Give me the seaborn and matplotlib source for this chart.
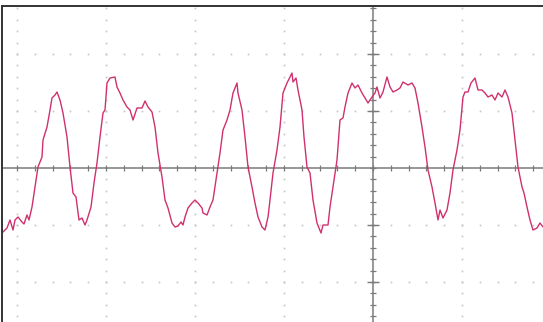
import numpy as np
import pandas as pd
import matplotlib
matplotlib.use("Agg")
import matplotlib.pyplot as plt
import seaborn as sns

# scope record: sample index and ADC code (57 codes per division, 0 = centre line)
sample = [3, 7, 10, 13, 15, 18, 22, 24, 27, 29,
          32, 35, 38, 42, 43, 47, 50, 52, 55, 57,
          60, 63, 67, 70, 73, 76, 79, 82, 85, 87,
          91, 94, 97, 100, 103, 105, 107, 110, 115, 117,
          120, 123, 127, 130, 133, 137, 142, 145, 148, 152,
          155, 158, 162, 165, 168, 172, 175, 178, 181, 183,
          185, 188, 192, 195, 198, 202, 203, 207, 210, 213,
          217, 220, 223, 227, 230, 233, 235, 237, 238, 242,
          245, 248, 252, 255, 258, 262, 265, 268, 270, 273,
          277, 280, 283, 287, 292, 293, 296, 298, 302, 304,
          307, 310, 313, 317, 321, 323, 328, 330, 333, 337,
          340, 343, 345, 348, 352, 355, 358, 362, 365, 368,
          372, 375, 377, 380, 383, 387, 390, 393, 397, 400,
          403, 408, 412, 415, 418, 422, 425, 428, 432, 435,
          438, 440, 443, 447, 450, 453, 457, 460, 463, 465,
          468, 471, 475, 478, 482, 485, 488, 492, 495, 498,
          502, 505, 508, 512, 515, 518, 522, 524, 527, 530,
          533, 537, 540, 543]

code = [-64, -60, -52, -62, -52, -49, -54, -56, -47, -52,
        -39, -19, 1, 11, 28, 41, 58, 70, 73, 76,
        68, 55, 31, 1, -25, -29, -52, -50, -57, -52,
        -39, -15, 5, 31, 55, 58, 85, 90, 91, 81,
        75, 68, 61, 58, 48, 60, 60, 67, 61, 56,
        41, 15, -9, -32, -40, -55, -59, -58, -54, -57,
        -49, -40, -35, -32, -35, -40, -45, -47, -39, -32,
        -5, 15, 38, 48, 58, 75, 80, 85, 75, 58,
        31, 1, -19, -35, -49, -59, -62, -49, -32, -5,
        18, 41, 75, 85, 95, 86, 90, 78, 58, 31,
        1, -5, -32, -55, -65, -57, -57, -39, -19, 8,
        48, 50, 61, 75, 85, 80, 83, 75, 70, 65,
        71, 75, 81, 70, 76, 91, 81, 76, 78, 80,
        86, 83, 85, 80, 65, 41, 21, -2, -19, -35,
        -52, -42, -50, -42, -25, -2, 18, 38, 71, 76,
        76, 85, 90, 78, 78, 75, 71, 73, 68, 75,
        71, 78, 71, 55, 28, 1, -19, -25, -39, -52,
        -62, -60, -55, -59]

# screen geometry
x_center = 373
x_div = 89
y_div = 57

sns.set_style("white")

df = pd.DataFrame({"sample": sample, "code": code})

fig = plt.figure(figsize=(5.43, 3.22), dpi=100)
ax = fig.add_axes([2 / 543, 0, 1 - 2 / 543, 316 / 322])

grid_col = "#c4c4c4"
axis_col = "#7a7a7a"

# dotted graticule
gx = [x_center + x_div * k for k in range(-4, 2)]
gy = [y_div * k for k in (-2, -1, 1, 2)]
ys = np.arange(-3 * y_div, 3 * y_div + 1, y_div / 5)
xs = np.arange(x_center - 5 * x_div, x_center + 2 * x_div + 1, x_div / 5)
for x in gx:
    if x == x_center:
        continue
    ax.plot([x] * len(ys), ys, ls="none", marker="s", ms=1.2, mew=0, color=grid_col)
for y in gy:
    ax.plot(xs, [y] * len(xs), ls="none", marker="s", ms=1.2, mew=0, color=grid_col)

# centre axes with sub-division ticks
ax.axhline(0, color=axis_col, lw=1.1)
ax.axvline(x_center, color=axis_col, lw=1.1)
ax.plot(xs, [0] * len(xs), ls="none", marker="|", ms=5, mew=0.9, color=axis_col)
ax.plot([x_center] * len(ys), ys, ls="none", marker="_", ms=5, mew=0.9, color=axis_col)
ax.plot([x_center] * len(gy), gy, ls="none", marker="_", ms=8, mew=1.0, color=axis_col)

# trace
sns.lineplot(data=df, x="sample", y="code", ax=ax, color="#d0306e", lw=1.0,
             estimator=None, sort=False)

ax.set_xlim(2, 543)
ax.set_ylim(168 - 322, 168 - 6)
ax.set_xticks([])
ax.set_yticks([])
ax.set_xlabel("")
ax.set_ylabel("")
for side in ("right", "bottom"):
    ax.spines[side].set_visible(False)
for side in ("left", "top"):
    ax.spines[side].set_color("#333333")
    ax.spines[side].set_linewidth(1.4)

fig.savefig("out.png", dpi=100)
